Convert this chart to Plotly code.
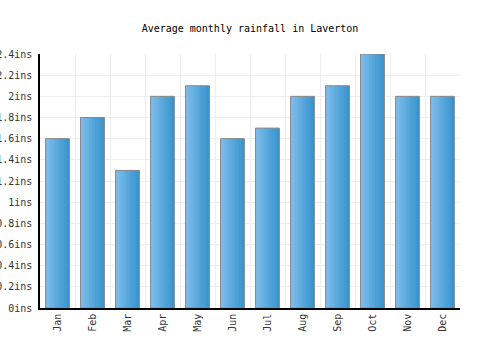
import plotly.graph_objects as go

months = ["Jan", "Feb", "Mar", "Apr", "May", "Jun", "Jul", "Aug", "Sep", "Oct", "Nov", "Dec"]
rainfall = [1.6, 1.8, 1.3, 2.0, 2.1, 1.6, 1.7, 2.0, 2.1, 2.4, 2.0, 2.0]
y_ticks = [0, 0.2, 0.4, 0.6, 0.8, 1.0, 1.2, 1.4, 1.6, 1.8, 2.0, 2.2, 2.4]
y_labels = ["0ins", "0.2ins", "0.4ins", "0.6ins", "0.8ins", "1ins", "1.2ins",
            "1.4ins", "1.6ins", "1.8ins", "2ins", "2.2ins", "2.4ins"]

FONT = "DejaVu Sans Mono"
bar_w = 0.68
n_strips = 14
c0 = (0x7E, 0xBD, 0xEC)
c1 = (0x38, 0x95, 0xCE)

fig = go.Figure()
for i in range(n_strips):
    t = i / (n_strips - 1)
    col = "rgb(%d,%d,%d)" % tuple(round(a + (b - a) * t) for a, b in zip(c0, c1))
    fig.add_trace(go.Bar(
        x=months, y=rainfall, width=bar_w / n_strips * 1.05,
        offset=-bar_w / 2 + i * bar_w / n_strips,
        marker=dict(color=col, line=dict(width=0)),
        hoverinfo="skip", showlegend=False))
fig.add_trace(go.Bar(
    x=months, y=rainfall, width=bar_w, offset=-bar_w / 2,
    marker=dict(color="rgba(0,0,0,0)", line=dict(color="#888888", width=1)),
    showlegend=False))

fig.update_layout(
    width=500, height=350,
    margin=dict(l=40, r=40, t=54, b=42),
    barmode="overlay",
    plot_bgcolor="white", paper_bgcolor="white",
    title=dict(text="Average monthly rainfall in Laverton", x=0.5, xanchor="center",
               y=1 - 28 / 350, yanchor="middle",
               font=dict(family=FONT, size=10, color="#000000")),
    font=dict(family=FONT, size=10, color="#333333"),
    xaxis=dict(type="category", tickson="boundaries", showgrid=True, gridcolor="#eeeeee",
               gridwidth=1, tickangle=-90, ticks="", showline=True, linecolor="#000000",
               linewidth=1.5, tickfont=dict(family=FONT, size=10, color="#333333"),
               range=[-0.5, 11.5], automargin=False),
    yaxis=dict(range=[0, 2.4], tickvals=y_ticks, ticktext=y_labels, showgrid=True,
               gridcolor="#eeeeee", gridwidth=1, showline=True, linecolor="#000000",
               linewidth=1.5, ticks="", zeroline=False, automargin=False,
               ticklabelstandoff=4,
               tickfont=dict(family=FONT, size=10, color="#333333")),
)
fig.write_html("out.html")
